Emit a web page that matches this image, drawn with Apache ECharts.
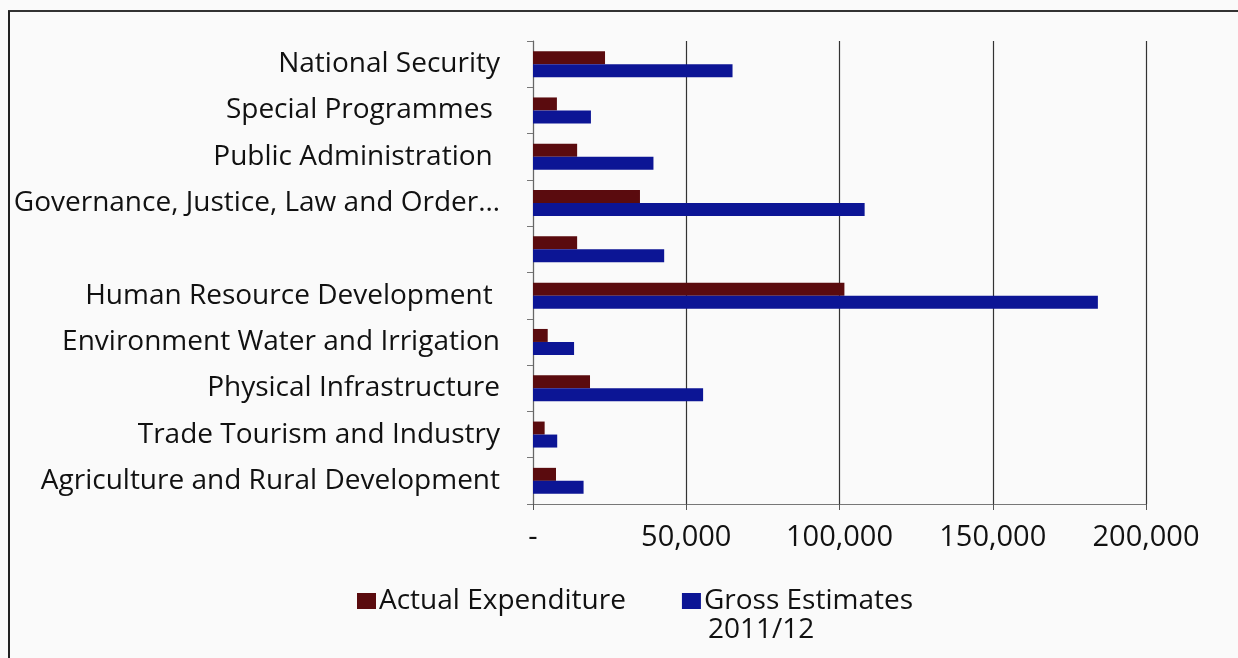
<!DOCTYPE html>
<html>
<head>
<meta charset="utf-8">
<script src="https://cdn.jsdelivr.net/npm/echarts@6/dist/echarts.min.js"></script>
<style>
html,body{margin:0;padding:0;background:#fafafa;}
#c{width:1238px;height:658px;}
</style>
</head>
<body>
<div id="c"></div>
<script>
// Categories listed bottom to top
const categories = [
  "Agriculture and Rural Development",
  "Trade Tourism and Industry",
  "Physical Infrastructure",
  "Environment Water and Irrigation",
  "Human Resource Development ",
  "",
  "Governance, Justice, Law and Order…",
  "Public Administration ",
  "Special Programmes ",
  "National Security"
];
const actualExpenditure = [7500, 3800, 18600, 4800, 101600, 14400, 34900, 14400, 7800, 23500];
const grossEstimates = [16500, 7900, 55500, 13400, 184300, 42800, 108200, 39300, 18900, 65100];
const xTicks = [0, 50000, 100000, 150000, 200000];
const seriesNames = ["Actual Expenditure", "Gross Estimates 2011/12"];

const chart = echarts.init(document.getElementById('c'));
const font = '"Open Sans"';
chart.setOption({
  backgroundColor: '#fafafa',
  animation: false,
  grid: { left: 533, right: 92, top: 41, bottom: 154, containLabel: false },
  graphic: [
    { type: 'line', shape: { x1: 8, y1: 11, x2: 1238, y2: 11 }, style: { stroke: '#333', lineWidth: 2 }, z: -1 },
    { type: 'line', shape: { x1: 9, y1: 11, x2: 9, y2: 658 }, style: { stroke: '#222', lineWidth: 2 }, z: -1 },
    { type: 'text', left: 708, top: 616, style: { text: '2011/12', font: '28px "Open Sans"', fill: '#111' } }
  ],
  legend: {
    data: seriesNames,
    left: 352, top: 582,
    itemWidth: 19, itemHeight: 16,
    itemGap: 56,
    icon: 'rect',
    textStyle: { fontFamily: font, fontSize: 28, color: '#111', padding: [0, 0, 0, -2] },
    formatter: function (n) { return n === "Gross Estimates 2011/12" ? "Gross Estimates" : n; }
  },
  xAxis: {
    type: 'value', min: xTicks[0], max: xTicks[xTicks.length - 1], interval: 50000,
    axisLine: { show: true, lineStyle: { color: '#777', width: 1 } },
    axisTick: { show: true, length: 6, lineStyle: { color: '#555' } },
    splitLine: { show: true, lineStyle: { color: '#333', width: 1.2 } },
    axisLabel: {
      margin: 19, fontFamily: font, fontSize: 29, color: '#111',
      formatter: function (v) { return v === 0 ? '-' : v.toLocaleString('en-US'); }
    }
  },
  yAxis: {
    type: 'category', data: categories,
    axisLine: { show: true, lineStyle: { color: '#666', width: 1 } },
    axisTick: { show: true, length: 6, lineStyle: { color: '#777' } },
    axisLabel: { margin: 33, fontFamily: font, fontSize: 28, color: '#111', padding: [4, 0, 0, 0] }
  },
  series: [
    { name: seriesNames[0], type: 'bar', data: actualExpenditure, barWidth: 13, barGap: '0%',
      itemStyle: { color: '#5a0b0e' } },
    { name: seriesNames[1], type: 'bar', data: grossEstimates, barWidth: 13, barGap: '0%',
      itemStyle: { color: '#0c1595' } }
  ]
});
</script>
</body>
</html>
